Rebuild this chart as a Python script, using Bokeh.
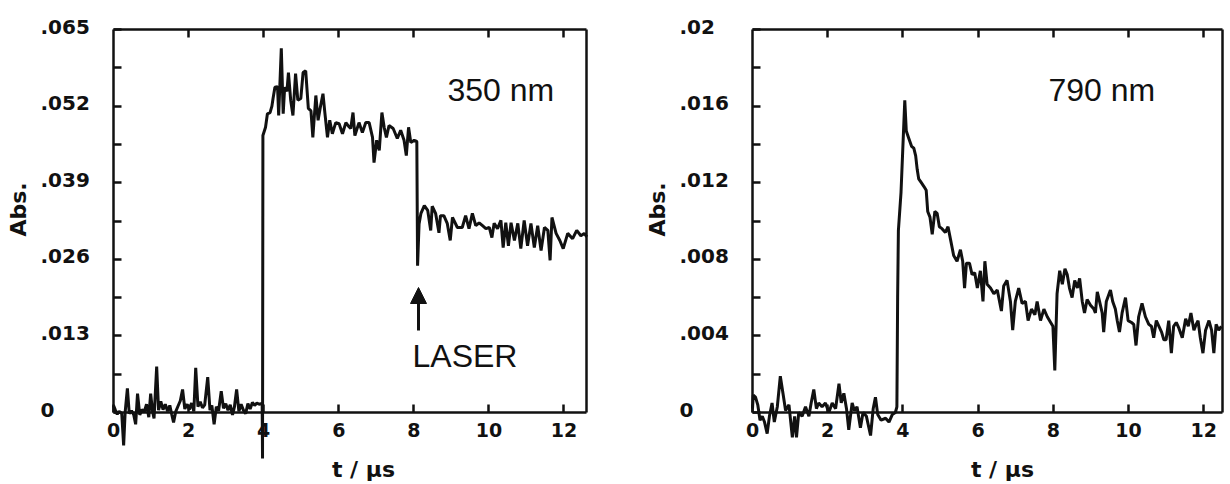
import math
from bokeh.plotting import figure
from bokeh.models import Range1d, LinearAxis, FixedTicker, Label, Arrow, NormalHead
from bokeh.layouts import row
from bokeh.embed import file_html
from bokeh.resources import INLINE

# ---------------- data ----------------
t_350 = [0.00, 0.05, 0.10, 0.15, 0.22, 0.27, 0.31, 0.37, 0.42, 0.48, 0.54, 0.59, 0.64, 0.70, 0.76,
         0.82, 0.88, 0.94, 0.99, 1.04, 1.08, 1.15, 1.20, 1.26, 1.32, 1.38, 1.44, 1.50, 1.55, 1.60,
         1.66, 1.72, 1.78, 1.84, 1.90, 1.96, 2.02, 2.08, 2.14, 2.19, 2.25, 2.31, 2.37, 2.43, 2.51,
         2.57, 2.62, 2.68, 2.74, 2.80, 2.87, 2.93, 2.99, 3.05, 3.11, 3.17, 3.22, 3.28, 3.34, 3.40,
         3.46, 3.52, 3.58, 3.64, 3.70, 3.76, 3.82, 3.88, 3.93, 3.96, 3.97, 3.98, 4.05, 4.10, 4.17,
         4.22, 4.25, 4.30, 4.37, 4.40, 4.47, 4.52, 4.56, 4.62, 4.66, 4.72, 4.78, 4.85, 4.91, 4.99,
         5.05, 5.12, 5.19, 5.26, 5.31, 5.39, 5.45, 5.51, 5.58, 5.63, 5.70, 5.76, 5.83, 5.92, 6.01,
         6.10, 6.19, 6.26, 6.32, 6.38, 6.43, 6.54, 6.63, 6.72, 6.81, 6.90, 6.94, 7.01, 7.08, 7.15,
         7.21, 7.27, 7.34, 7.45, 7.56, 7.65, 7.74, 7.80, 7.86, 7.92, 8.01, 8.08, 8.10, 8.14, 8.19,
         8.28, 8.37, 8.45, 8.49, 8.58, 8.67, 8.71, 8.80, 8.89, 8.97, 9.03, 9.16, 9.29, 9.38, 9.47,
         9.56, 9.65, 9.74, 9.83, 9.92, 10.01, 10.08, 10.14, 10.23, 10.32, 10.38, 10.45, 10.52, 10.59,
         10.68, 10.77, 10.85, 10.94, 11.03, 11.12, 11.21, 11.30, 11.39, 11.48, 11.57, 11.63, 11.68,
         11.79, 11.89, 11.98, 12.10, 12.23, 12.34, 12.45, 12.54, 12.61]
a_350 = [0.0012, 0.0004, -0.0003, 0.0002, -0.0002, -0.0056, 0.0000, 0.0041, -0.0002, 0.0003,
         -0.0004, -0.0020, 0.0032, -0.0004, 0.0005, 0.0001, 0.0014, -0.0008, 0.0032, 0.0002,
         -0.0010, 0.0078, 0.0004, 0.0019, 0.0005, 0.0014, 0.0002, 0.0012, -0.0003, -0.0017,
         0.0002, 0.0011, 0.0020, 0.0039, 0.0006, 0.0014, 0.0005, 0.0016, 0.0002, 0.0076,
         0.0010, 0.0018, 0.0008, 0.0013, 0.0060, 0.0004, 0.0012, -0.0020, 0.0010, 0.0003,
         0.0036, 0.0007, 0.0015, 0.0004, 0.0013, -0.0004, 0.0009, 0.0039, 0.0002, 0.0014,
         0.0004, -0.0002, 0.0015, 0.0006, 0.0017, 0.0012, 0.0016, 0.0014, 0.0015, 0.0015,
         -0.0078, 0.0470, 0.0484, 0.0507, 0.0509, 0.0520, 0.0533, 0.0552, 0.0553, 0.0504,
         0.0618, 0.0507, 0.0552, 0.0545, 0.0577, 0.0530, 0.0504, 0.0575, 0.0530, 0.0533,
         0.0577, 0.0580, 0.0516, 0.0512, 0.0467, 0.0538, 0.0496, 0.0518, 0.0541, 0.0509,
         0.0467, 0.0496, 0.0473, 0.0492, 0.0490, 0.0473, 0.0492, 0.0486, 0.0482, 0.0509,
         0.0470, 0.0492, 0.0475, 0.0492, 0.0492, 0.0467, 0.0424, 0.0462, 0.0445, 0.0509,
         0.0484, 0.0467, 0.0487, 0.0482, 0.0465, 0.0479, 0.0462, 0.0436, 0.0484, 0.0458,
         0.0462, 0.0460, 0.0249, 0.0320, 0.0338, 0.0351, 0.0343, 0.0309, 0.0350, 0.0338,
         0.0305, 0.0334, 0.0334, 0.0321, 0.0292, 0.0331, 0.0314, 0.0314, 0.0334, 0.0312,
         0.0338, 0.0317, 0.0322, 0.0317, 0.0312, 0.0314, 0.0297, 0.0321, 0.0312, 0.0326,
         0.0280, 0.0322, 0.0283, 0.0322, 0.0292, 0.0321, 0.0278, 0.0326, 0.0283, 0.0321,
         0.0280, 0.0317, 0.0275, 0.0314, 0.0309, 0.0258, 0.0331, 0.0304, 0.0292, 0.0278,
         0.0304, 0.0295, 0.0309, 0.0300, 0.0304, 0.0298]

t_790 = [0.00, 0.02, 0.08, 0.14, 0.20, 0.26, 0.32, 0.39, 0.45, 0.52, 0.58, 0.66, 0.74, 0.81, 0.88,
         0.97, 1.06, 1.12, 1.17, 1.23, 1.32, 1.41, 1.50, 1.56, 1.63, 1.70, 1.76, 1.85, 1.94, 2.03,
         2.12, 2.21, 2.30, 2.36, 2.43, 2.50, 2.56, 2.65, 2.71, 2.78, 2.87, 2.94, 3.03, 3.14, 3.21,
         3.27, 3.33, 3.42, 3.54, 3.63, 3.72, 3.80, 3.84, 3.86, 3.88, 3.95, 4.05, 4.09, 4.16, 4.23,
         4.29, 4.34, 4.38, 4.42, 4.49, 4.56, 4.62, 4.66, 4.72, 4.78, 4.85, 4.91, 4.97, 5.04, 5.13,
         5.20, 5.27, 5.35, 5.44, 5.53, 5.59, 5.64, 5.69, 5.77, 5.84, 5.91, 5.98, 6.06, 6.13, 6.18,
         6.24, 6.33, 6.42, 6.51, 6.62, 6.68, 6.77, 6.86, 6.92, 6.99, 7.08, 7.17, 7.26, 7.33, 7.42,
         7.51, 7.57, 7.66, 7.75, 7.84, 7.93, 7.99, 8.04, 8.10, 8.17, 8.24, 8.31, 8.37, 8.43, 8.50,
         8.57, 8.64, 8.70, 8.77, 8.83, 8.90, 8.99, 9.08, 9.12, 9.17, 9.23, 9.30, 9.34, 9.41, 9.52,
         9.58, 9.65, 9.70, 9.76, 9.83, 9.92, 9.99, 10.08, 10.14, 10.20, 10.27, 10.36, 10.45, 10.54,
         10.61, 10.67, 10.74, 10.81, 10.88, 10.94, 11.00, 11.07, 11.14, 11.20, 11.27, 11.34, 11.43,
         11.52, 11.59, 11.66, 11.74, 11.80, 11.85, 11.91, 11.98, 12.05, 12.14, 12.21, 12.27, 12.33,
         12.40, 12.47]
a_790 = [0.0002, 0.0009, 0.0008, 0.0004, -0.0004, -0.0002, -0.0005, -0.0011, -0.0002, 0.0005,
         -0.0005, 0.0003, 0.0019, 0.0010, 0.0001, 0.0004, -0.0013, -0.0002, -0.0013, 0.0000,
         -0.0002, 0.0003, -0.0002, 0.0005, 0.0012, 0.0002, 0.0005, 0.0003, 0.0005, 0.0000,
         0.0005, 0.0002, 0.0015, 0.0005, 0.0010, 0.0002, -0.0009, 0.0005, 0.0001, 0.0003,
         -0.0008, 0.0000, -0.0002, -0.0012, 0.0002, 0.0008, -0.0001, -0.0004, -0.0003, -0.0005,
         -0.0001, 0.0000, 0.0003, 0.0060, 0.0095, 0.0115, 0.0163, 0.0147, 0.0143, 0.0139,
         0.0138, 0.0134, 0.0127, 0.0122, 0.0120, 0.0118, 0.0116, 0.0105, 0.0102, 0.0093,
         0.0105, 0.0104, 0.0097, 0.0096, 0.0094, 0.0097, 0.0090, 0.0082, 0.0079, 0.0085,
         0.0079, 0.0065, 0.0078, 0.0078, 0.0072, 0.0073, 0.0065, 0.0074, 0.0058, 0.0079,
         0.0067, 0.0065, 0.0062, 0.0064, 0.0053, 0.0066, 0.0069, 0.0058, 0.0043, 0.0058,
         0.0065, 0.0057, 0.0058, 0.0048, 0.0054, 0.0051, 0.0058, 0.0048, 0.0054, 0.0050,
         0.0047, 0.0045, 0.0022, 0.0062, 0.0074, 0.0067, 0.0075, 0.0072, 0.0065, 0.0060,
         0.0069, 0.0065, 0.0070, 0.0058, 0.0052, 0.0059, 0.0056, 0.0054, 0.0052, 0.0063,
         0.0058, 0.0052, 0.0042, 0.0058, 0.0064, 0.0058, 0.0054, 0.0048, 0.0042, 0.0052,
         0.0060, 0.0048, 0.0047, 0.0046, 0.0035, 0.0050, 0.0057, 0.0050, 0.0046, 0.0045,
         0.0039, 0.0048, 0.0045, 0.0042, 0.0038, 0.0038, 0.0048, 0.0031, 0.0045, 0.0047,
         0.0044, 0.0039, 0.0049, 0.0045, 0.0052, 0.0043, 0.0046, 0.0048, 0.0039, 0.0031,
         0.0043, 0.0048, 0.0043, 0.0031, 0.0046, 0.0043, 0.0045]

x_ticks = [0, 2, 4, 6, 8, 10, 12]
y_ticks_350 = [0, 0.013, 0.026, 0.039, 0.052, 0.065]
y_labels_350 = ["0", ".013", ".026", ".039", ".052", ".065"]
y_ticks_790 = [0, 0.004, 0.008, 0.012, 0.016, 0.02]
y_labels_790 = ["0", ".004", ".008", ".012", ".016", ".02"]

# ---------------- layout constants (canvas pixels) ----------------
FIG_H = 484
FRAME_TOP = 29      # pixel row of the top of the box
ZERO_ROW = 412      # pixel row of the zero line
INK = "#111111"
BOLD_FONT = "DejaVu Sans"
LIGHT_FONT = "Liberation Sans"


def panel(t, a, x_end, y_ticks, y_labels, fig_w, box_left, box_right, annotate):
    """The whole canvas is the data frame; the box and axes are drawn inside it."""
    y_top = y_ticks[-1]
    px_x = (box_right - box_left) / x_end
    px_y = (ZERO_ROW - FRAME_TOP) / y_top

    def X(px):
        return (px - box_left) / px_x

    def Y(py):
        return (ZERO_ROW - py) / px_y

    p = figure(width=fig_w, height=FIG_H,
               x_range=Range1d(X(0), X(fig_w)), y_range=Range1d(Y(FIG_H), Y(0)),
               x_axis_location=None, y_axis_location=None,
               toolbar_location=None, output_backend="svg",
               min_border=0, min_border_left=0, min_border_right=0,
               min_border_top=0, min_border_bottom=0,
               outline_line_color=None, background_fill_color="white",
               border_fill_color="white")
    p.xgrid.visible = False
    p.ygrid.visible = False

    common = dict(axis_line_width=2.5, axis_line_color=INK,
                  major_tick_line_width=2.5, major_tick_line_color=INK,
                  minor_tick_in=0, minor_tick_out=0, major_tick_out=0)

    bottom = LinearAxis(fixed_location=0, bounds=(0, x_end),
                        ticker=FixedTicker(ticks=x_ticks),
                        major_tick_in=8, major_label_standoff=10,
                        major_label_text_font=BOLD_FONT,
                        major_label_text_font_style="bold",
                        major_label_text_font_size="19px",
                        major_label_text_color=INK, **common)
    p.add_layout(bottom, "below")

    top = LinearAxis(fixed_location=y_top, bounds=(0, x_end),
                     ticker=FixedTicker(ticks=x_ticks[1:]), major_tick_in=8,
                     major_label_standoff=0, major_label_text_font_size="0px",
                     major_label_text_color=None, **common)
    p.add_layout(top, "above")

    minor = [(u + v) / 2 for u, v in zip(y_ticks[:-1], y_ticks[1:])]
    left = LinearAxis(fixed_location=0, bounds=(0, y_top),
                      ticker=FixedTicker(ticks=sorted(y_ticks + minor)),
                      major_tick_in=8, major_label_standoff=0,
                      major_label_text_font_size="0px", major_label_text_color=None, **common)
    p.add_layout(left, "left")

    right = LinearAxis(fixed_location=x_end, bounds=(0, y_top),
                       ticker=FixedTicker(ticks=[]), major_tick_in=0,
                       major_label_standoff=0, major_label_text_font_size="0px",
                       major_label_text_color=None, **common)
    p.add_layout(right, "right")

    p.line(t, a, line_width=3, line_color=INK)

    # y tick labels, left aligned as in the original
    for yv, lab in zip(y_ticks, y_labels):
        p.add_layout(Label(x=X(box_left - 73), y=yv, text=lab, text_align="left",
                           text_baseline="middle", y_offset=3,
                           text_font=BOLD_FONT, text_font_style="bold",
                           text_font_size="20px", text_color=INK))

    # axis titles
    p.add_layout(Label(x=X(box_left - 95), y=Y(209), text="Abs.", angle=math.pi / 2,
                       text_align="center", text_baseline="middle", text_font=BOLD_FONT,
                       text_font_style="bold", text_font_size="22px", text_color=INK))
    p.add_layout(Label(x=X(box_left + 250), y=Y(469), text="t / μs",
                       text_align="center", text_baseline="middle",
                       text_font=BOLD_FONT, text_font_style="bold",
                       text_font_size="22px", text_color=INK))
    annotate(p, X, Y)
    return p


def ann_350(p, X, Y):
    p.add_layout(Label(x=X(447), y=Y(89), text="350 nm", text_align="left",
                       text_baseline="middle", text_font=LIGHT_FONT,
                       text_font_size="32px", text_color=INK))
    p.add_layout(Label(x=X(412), y=Y(355), text="LASER", text_align="left",
                       text_baseline="middle", text_font=LIGHT_FONT,
                       text_font_size="32px", text_color=INK))
    p.add_layout(Arrow(x_start=X(418), y_start=Y(330), x_end=X(418), y_end=Y(287),
                       line_width=3, line_color=INK,
                       end=NormalHead(size=16, fill_color=INK, line_color=INK)))


def ann_790(p, X, Y):
    p.add_layout(Label(x=X(1048 - 630), y=Y(89), text="790 nm", text_align="left",
                       text_baseline="middle", text_font=LIGHT_FONT,
                       text_font_size="32px", text_color=INK))


p1 = panel(t_350, a_350, 12.6, y_ticks_350, y_labels_350, 630, 113, 586, ann_350)
p2 = panel(t_790, a_790, 12.5, y_ticks_790, y_labels_790, 600, 752 - 630, 1222 - 630, ann_790)

layout = row(p1, p2)
open("out.html", "w").write(file_html(layout, INLINE))
